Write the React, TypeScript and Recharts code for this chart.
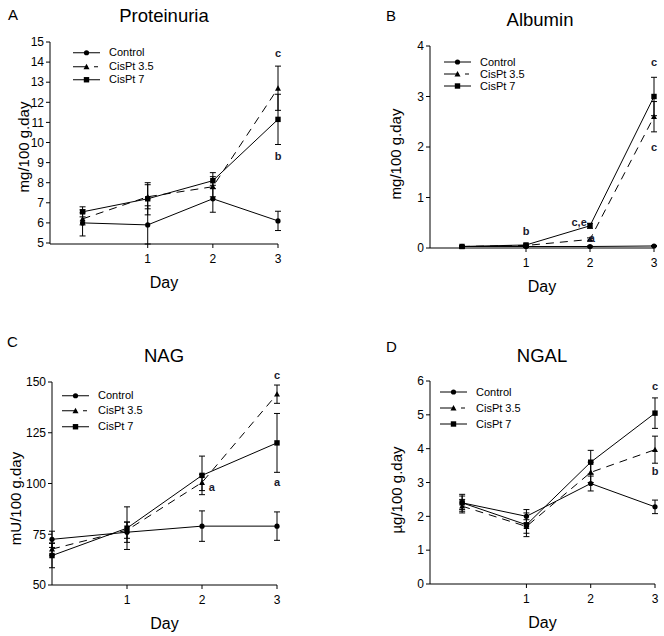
import React from 'react';
import { LineChart, Line, XAxis, YAxis, ErrorBar, Legend, ReferenceDot, Label } from 'recharts';

const FONT = '"Liberation Sans", Arial, Helvetica, sans-serif';

// ---- shared
const days = [0, 1, 2, 3];
const seriesNames = ['Control', 'CisPt 3.5', 'CisPt 7'];
const xTicks = [1, 2, 3];

// ---- A: Proteinuria (mg/100 g.day)
const protControl = [6.0, 5.9, 7.2, 6.1];
const protControlErr = [0.65, 0.95, 0.67, 0.48];
const protCis35 = [6.2, 7.3, 7.8, 12.7];
const protCis35Err = [0.3, 0.6, 0.5, 1.1];
const protCis7 = [6.55, 7.2, 8.1, 11.15];
const protCis7Err = [0.25, 0.8, 0.4, 1.25];
const protTicks = [5, 6, 7, 8, 9, 10, 11, 12, 13, 14, 15];
const protNotes = [
  { day: 3, value: 14.45, text: 'c' },
  { day: 3, value: 9.3, text: 'b' },
];

// ---- B: Albumin (mg/100 g.day)
const albControl = [0.03, 0.03, 0.03, 0.04];
const albControlErr = [0.01, 0.01, 0.01, 0.01];
const albCis35 = [0.03, 0.05, 0.17, 2.6];
const albCis35Err = [0.01, 0.01, 0.03, 0.3];
const albCis7 = [0.03, 0.06, 0.44, 3.0];
const albCis7Err = [0.01, 0.02, 0.05, 0.38];
const albTicks = [0, 1, 2, 3, 4];
const albNotes = [
  { day: 3, value: 3.68, text: 'c' },
  { day: 3, value: 2.0, text: 'c' },
  { day: 1, value: 0.34, text: 'b' },
  { day: 1.83, value: 0.52, text: 'c,e' },
  { day: 2.03, value: 0.2, text: 'a' },
];

// ---- C: NAG (mU/100 g.day)
const nagControl = [72.5, 76, 79, 79];
const nagControlErr = [4, 5, 7.5, 7];
const nagCis35 = [67.7, 77, 100.5, 144];
const nagCis35Err = [3, 4, 4, 4.5];
const nagCis7 = [64.5, 78, 104, 120];
const nagCis7Err = [6, 10.5, 9.5, 14.5];
const nagTicks = [50, 75, 100, 125, 150];
const nagNotes = [
  { day: 3, value: 153.4, text: 'c' },
  { day: 3, value: 100.7, text: 'a' },
  { day: 2.13, value: 98.3, text: 'a' },
];

// ---- D: NGAL (µg/100 g.day)
const ngalControl = [2.4, 2.0, 2.97, 2.28];
const ngalControlErr = [0.2, 0.2, 0.22, 0.2];
const ngalCis35 = [2.3, 1.7, 3.3, 3.97];
const ngalCis35Err = [0.2, 0.2, 0.3, 0.4];
const ngalCis7 = [2.4, 1.75, 3.6, 5.05];
const ngalCis7Err = [0.25, 0.35, 0.35, 0.45];
const ngalTicks = [0, 1, 2, 3, 4, 5, 6];
const ngalNotes = [
  { day: 3, value: 5.85, text: 'c' },
  { day: 3, value: 3.34, text: 'b' },
];

function buildTable(c: number[], ce: number[], a: number[], ae: number[], b: number[], be: number[]) {
  return days.map((d, i) => ({
    day: d,
    ctrl: c[i], ctrlErr: ce[i],
    c35: a[i], c35Err: ae[i],
    c7: b[i], c7Err: be[i],
  }));
}

type Kind = 'circle' | 'triangle' | 'square';

function Marker({ cx, cy, kind }: { cx: number; cy: number; kind: Kind }) {
  if (cx == null || cy == null || isNaN(cx) || isNaN(cy)) return null;
  if (kind === 'circle') return <circle cx={cx} cy={cy} r={2.6} fill="#000" />;
  if (kind === 'triangle')
    return <polygon points={`${cx - 3},${cy + 2.4} ${cx + 3},${cy + 2.4} ${cx},${cy - 3}`} fill="#000" />;
  return <rect x={cx - 2.7} y={cy - 2.7} width={5.4} height={5.4} fill="#000" />;
}

const kinds: Kind[] = ['circle', 'triangle', 'square'];
const DASH = '8 6';

function LegendBox({ rowH, gap }: { rowH: number; gap: number }) {
  return (
    <div style={{ fontFamily: FONT, fontSize: 11, color: '#000' }}>
      {seriesNames.map((n, i) => (
        <div key={n} style={{ display: 'flex', alignItems: 'center', height: rowH }}>
          <svg width={27} height={rowH} style={{ display: 'block' }}>
            {i === 1 ? (
              <g stroke="#000" strokeWidth={1}>
                <line x1={0} y1={rowH / 2} x2={15} y2={rowH / 2} />
                <line x1={21} y1={rowH / 2} x2={25} y2={rowH / 2} />
              </g>
            ) : (
              <line x1={0} y1={rowH / 2} x2={27} y2={rowH / 2} stroke="#000" strokeWidth={1} />
            )}
            <Marker cx={13.5} cy={rowH / 2} kind={kinds[i]} />
          </svg>
          <span style={{ marginLeft: gap, lineHeight: '11px' }}>{n}</span>
        </div>
      ))}
    </div>
  );
}

type PanelCfg = {
  left: number; top: number; width: number; height: number;
  margin: { top: number; right: number; bottom: number; left: number };
  yWidth: number; xHeight: number;
  xDomain: [number, number]; yDomain: [number, number]; yTicks: number[];
  yLabel: string; yLabelX: number; yLabelDy: number;
  legend: { left: number; top: number; rowH: number };
  data: any[]; notes: { day: number; value: number; text: string }[];
};

function Panel({ cfg }: { cfg: PanelCfg }) {
  const axisTick = { fontSize: 12, fill: '#000', fontFamily: FONT };
  const keys = [
    ['ctrl', 'ctrlErr'],
    ['c35', 'c35Err'],
    ['c7', 'c7Err'],
  ];
  return (
    <LineChart
      width={cfg.width}
      height={cfg.height}
      data={cfg.data}
      margin={cfg.margin}
      style={{ position: 'absolute', left: cfg.left, top: cfg.top }}
    >
      <XAxis
        dataKey="day"
        type="number"
        domain={cfg.xDomain}
        ticks={xTicks}
        interval={0}
        height={cfg.xHeight}
        tickSize={4}
        tickMargin={6}
        axisLine={{ stroke: '#000', strokeWidth: 1 }}
        tickLine={{ stroke: '#000' }}
        tick={axisTick}
      >
        <Label
          content={(p: any) => {
            const vb = p.viewBox || {};
            return (
              <text
                x={vb.x + vb.width / 2}
                y={vb.y + 38}
                textAnchor="middle"
                dominantBaseline="central"
                fontSize={16}
                fontFamily={FONT}
                fill="#000"
              >
                Day
              </text>
            );
          }}
        />
      </XAxis>
      <YAxis
        type="number"
        domain={cfg.yDomain}
        ticks={cfg.yTicks}
        interval={0}
        width={cfg.yWidth}
        tickSize={4}
        tickMargin={2}
        axisLine={{ stroke: '#000', strokeWidth: 1 }}
        tickLine={{ stroke: '#000' }}
        tick={axisTick}
      >
        <Label
          content={(p: any) => {
            const vb = p.viewBox || {};
            const x = vb.x + cfg.yLabelX;
            const y = vb.y + vb.height / 2 + cfg.yLabelDy;
            return (
              <text
                x={x}
                y={y}
                transform={`rotate(-90, ${x}, ${y})`}
                textAnchor="middle"
                dominantBaseline="central"
                fontSize={15}
                fontFamily={FONT}
                fill="#000"
              >
                {cfg.yLabel}
              </text>
            );
          }}
        />
      </YAxis>
      <Legend
        layout="vertical"
        align="center"
        verticalAlign="middle"
        wrapperStyle={{ left: cfg.legend.left, top: cfg.legend.top, width: 'auto' }}
        content={() => <LegendBox rowH={cfg.legend.rowH} gap={9} />}
      />
      {keys.map(([k, e], i) => (
        <Line
          key={k}
          dataKey={k}
          name={seriesNames[i]}
          type="linear"
          stroke="#000"
          strokeWidth={1}
          strokeDasharray={i === 1 ? DASH : undefined}
          isAnimationActive={false}
          activeDot={false}
          dot={(p: any) => <Marker key={`${k}-${p.index}`} cx={p.cx} cy={p.cy} kind={kinds[i]} />}
        >
          <ErrorBar dataKey={e} direction="y" width={3} stroke="#000" strokeWidth={1} isAnimationActive={false} />
        </Line>
      ))}
      {cfg.notes.map((n, i) => (
        <ReferenceDot
          key={`n${i}`}
          x={n.day}
          y={n.value}
          r={0}
          ifOverflow="visible"
          fill="none"
          stroke="none"
          label={{
            value: n.text,
            position: 'center',
            fontSize: 11,
            fontWeight: 'bold',
            fontFamily: FONT,
            fill: '#1a1a2e',
          }}
        />
      ))}
    </LineChart>
  );
}

const panels: PanelCfg[] = [
  {
    left: 0, top: 0, width: 332, height: 318,
    margin: { top: 42, right: 54, bottom: 24, left: 0 }, yWidth: 50, xHeight: 50,
    xDomain: [-0.5, 3], yDomain: [5, 15], yTicks: protTicks,
    yLabel: 'mg/100 g.day', yLabelX: 23, yLabelDy: 4,
    legend: { left: 73, top: 46, rowH: 13.5 },
    data: buildTable(protControl, protControlErr, protCis35, protCis35Err, protCis7, protCis7Err),
    notes: protNotes,
  },
  {
    left: 332, top: 0, width: 332, height: 318,
    margin: { top: 46, right: 10, bottom: 20, left: 38 }, yWidth: 60, xHeight: 50,
    xDomain: [-0.5, 3], yDomain: [0, 4], yTicks: albTicks,
    yLabel: 'mg/100 g.day', yLabelX: 25.5, yLabelDy: 7,
    legend: { left: 112, top: 56, rowH: 12 },
    data: buildTable(albControl, albControlErr, albCis35, albCis35Err, albCis7, albCis7Err),
    notes: albNotes,
  },
  {
    left: 0, top: 318, width: 332, height: 318,
    margin: { top: 64, right: 55, bottom: 6, left: 0 }, yWidth: 52, xHeight: 45,
    xDomain: [0, 3], yDomain: [50, 150], yTicks: nagTicks,
    yLabel: 'mU/100 g.day', yLabelX: 15, yLabelDy: 15,
    legend: { left: 62, top: 69.5, rowH: 15.5 },
    data: buildTable(nagControl, nagControlErr, nagCis35, nagCis35Err, nagCis7, nagCis7Err),
    notes: nagNotes,
  },
  {
    left: 332, top: 318, width: 332, height: 318,
    margin: { top: 63, right: 9, bottom: 7, left: 38 }, yWidth: 60, xHeight: 45,
    xDomain: [-0.5, 3], yDomain: [0, 6], yTicks: ngalTicks,
    yLabel: 'µg/100 g.day', yLabelX: 26, yLabelDy: 7.5,
    legend: { left: 108, top: 66, rowH: 16 },
    data: buildTable(ngalControl, ngalControlErr, ngalCis35, ngalCis35Err, ngalCis7, ngalCis7Err),
    notes: ngalNotes,
  },
];

const titles = [
  { letter: 'A', lx: 8, ly: 20, title: 'Proteinuria', tx: 164, ty: 22 },
  { letter: 'B', lx: 386, ly: 21, title: 'Albumin', tx: 540, ty: 26 },
  { letter: 'C', lx: 7, ly: 347, title: 'NAG', tx: 164, ty: 362 },
  { letter: 'D', lx: 386, ly: 352, title: 'NGAL', tx: 542, ty: 362 },
];

export default function App() {
  return (
    <div style={{ position: 'absolute', left: 0, top: 0, width: 664, height: 636, background: '#fff', fontFamily: FONT }}>
      {panels.map((p, i) => (
        <Panel key={i} cfg={p} />
      ))}
      <svg width={664} height={636} style={{ position: 'absolute', left: 0, top: 0, pointerEvents: 'none' }}>
        {titles.map((t) => (
          <g key={t.letter} fontFamily={FONT} fill="#000">
            <text x={t.lx} y={t.ly} fontSize={15}>{t.letter}</text>
            <text x={t.tx} y={t.ty} fontSize={18.5} textAnchor="middle">{t.title}</text>
          </g>
        ))}
      </svg>
    </div>
  );
}
